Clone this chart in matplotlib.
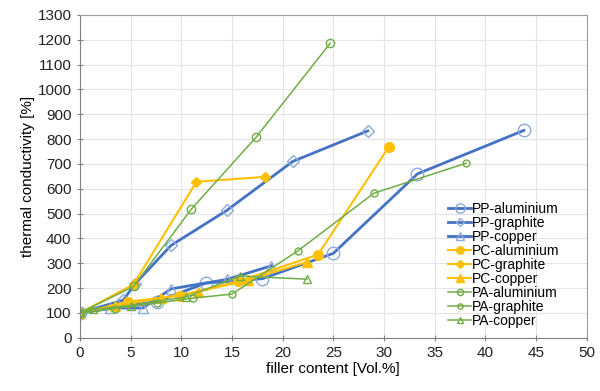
import matplotlib.pyplot as plt

plt.rcParams['font.family'] = ['Liberation Sans', 'DejaVu Sans']

blue = '#4472C4'
light_blue = '#8EA9DB'
yellow = '#FFC000'
green = '#70AD47'

# filler content [Vol.%], thermal conductivity [%]
pp_al_x = [0, 7.6, 12.4, 18.0, 25.0, 33.3, 43.8]
pp_al_y = [100, 146, 220, 238, 340, 660, 835]
pp_gr_x = [0, 4.3, 5.4, 9.0, 14.5, 21.0, 28.4]
pp_gr_y = [100, 152, 215, 372, 513, 710, 833]
pp_cu_x = [0, 3.0, 6.2, 9.0, 14.5, 18.9]
pp_cu_y = [100, 120, 120, 197, 235, 290]

pc_al_x = [0, 4.8, 9.9, 15.6, 23.5, 30.5]
pc_al_y = [100, 146, 170, 227, 335, 770]
pc_gr_x = [0, 5.3, 11.5, 18.3]
pc_gr_y = [100, 215, 628, 648]
pc_cu_x = [0, 3.5, 8.0, 11.7, 16.6, 22.4]
pc_cu_y = [100, 128, 160, 186, 233, 305]

pa_al_x = [0, 5.3, 11.0, 17.4, 24.7]
pa_al_y = [100, 207, 518, 808, 1186]
pa_gr_x = [0, 3.5, 7.6, 11.2, 15.0, 21.5, 29.0, 38.1]
pa_gr_y = [100, 118, 140, 160, 176, 350, 582, 703]
pa_cu_x = [0, 1.3, 5.0, 10.5, 15.8, 22.4]
pa_cu_y = [100, 115, 130, 165, 249, 236]

series = [
    ('PP-aluminium', pp_al_x, pp_al_y, blue, light_blue, 'o', 2.0, 'none', 9),
    ('PP-graphite', pp_gr_x, pp_gr_y, blue, light_blue, 'D', 2.0, 'none', 6),
    ('PP-copper', pp_cu_x, pp_cu_y, blue, light_blue, '^', 2.0, 'none', 7),
    ('PC-aluminium', pc_al_x, pc_al_y, yellow, yellow, 'o', 1.5, yellow, 7),
    ('PC-graphite', pc_gr_x, pc_gr_y, yellow, yellow, 'D', 1.5, yellow, 5),
    ('PC-copper', pc_cu_x, pc_cu_y, yellow, yellow, '^', 1.5, yellow, 7),
    ('PA-aluminium', pa_al_x, pa_al_y, green, green, 'o', 1.1, 'none', 6),
    ('PA-graphite', pa_gr_x, pa_gr_y, green, green, 'o', 1.1, 'none', 5),
    ('PA-copper', pa_cu_x, pa_cu_y, green, green, '^', 1.1, 'none', 6),
]

fig = plt.figure(figsize=(6, 3.91), dpi=100)
ax = fig.add_axes([0.133, 0.136, 0.845, 0.826])

for label, xs, ys, color, edge, marker, lw, face, ms in series:
    ax.plot(xs, ys, color=color, lw=lw, marker=marker, markersize=ms,
            markerfacecolor=face, markeredgecolor=edge, markeredgewidth=1.0,
            label=label)

ax.set_xlim(0, 50)
ax.set_ylim(0, 1300)
ax.set_xticks(range(0, 51, 5))
ax.set_yticks(range(0, 1301, 100))
ax.grid(True, color='#e4e4e4', lw=0.8)
ax.set_axisbelow(True)
for side in ['left', 'bottom']:
    ax.spines[side].set_color('#808080')
for side in ['top', 'right']:
    ax.spines[side].set_color('#a0a0a0')
ax.tick_params(direction='inout', length=5, color='#808080', labelsize=11,
               labelcolor='#222222')
ax.set_xlabel('filler content [Vol.%]', fontsize=11, labelpad=1)
ax.set_ylabel('thermal conductivity [%]', fontsize=11, labelpad=2)

ax.legend(loc='lower right', bbox_to_anchor=(0.96, 0.01), frameon=False,
          fontsize=10, handlelength=1.6, handletextpad=0.1,
          labelspacing=0.0, borderpad=0, markerscale=0.75)

fig.savefig('out.png')
